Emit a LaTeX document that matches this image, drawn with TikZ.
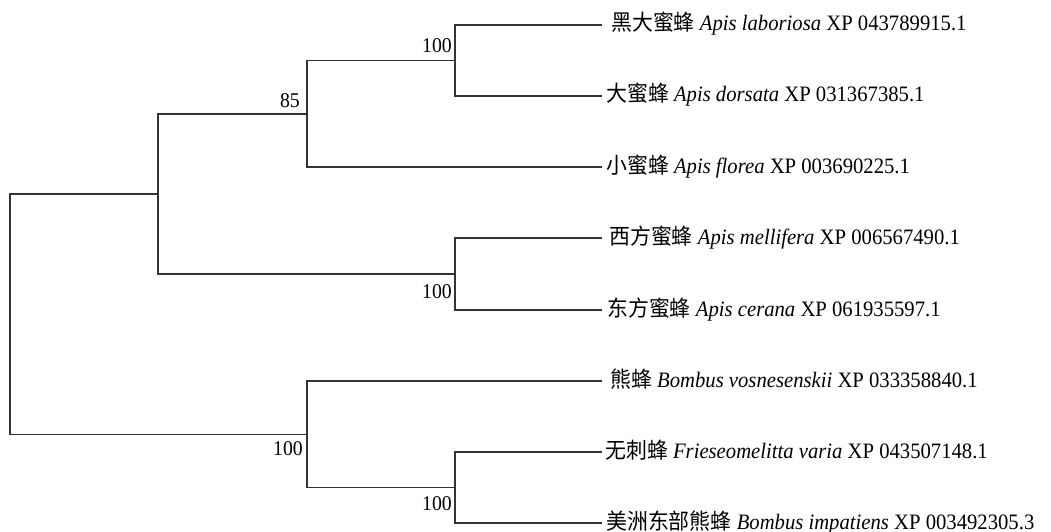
\documentclass[tikz,border=0pt]{standalone}
\usepackage{fontspec}
\setmainfont{Liberation Serif}[FakeStretch=0.94]
\newfontfamily\cjk{Noto Sans CJK SC}[FakeStretch=0.95]
\begin{document}
\begin{tikzpicture}[x=1pt,y=-1pt,
  branch/.style={draw=black!80, line width=1.2pt},
  leaf/.style={anchor=base west, inner sep=0pt, font=\fontsize{22}{24}\selectfont},
  boot/.style={anchor=base east, inner sep=0pt, font=\fontsize{21}{24}\selectfont}]
\useasboundingbox (0,0) rectangle (1051,532);
% leaf tips
\coordinate (l1) at (602,25);
\coordinate (l2) at (602,96);
\coordinate (l3) at (602,167);
\coordinate (l4) at (602,238);
\coordinate (l5) at (602,310);
\coordinate (l6) at (602,381);
\coordinate (l7) at (602,452);
\coordinate (l8) at (602,523);
% internal nodes
\coordinate (C) at (455,60.5);
\coordinate (B) at (307,114);
\coordinate (D) at (455,274);
\coordinate (A) at (158,194);
\coordinate (F) at (455,487.5);
\coordinate (E) at (307,434.5);
\coordinate (R) at (10,314);
% branches
\draw[branch] (l1) -| (C) |- (l2);
\draw[branch] (C) -| (B) |- (l3);
\draw[branch] (l4) -| (D) |- (l5);
\draw[branch] (B) -| (A) |- (D);
\draw[branch] (l7) -| (F) |- (l8);
\draw[branch] (l6) -| (E) |- (F);
\draw[branch] (A) -| (R) |- (E);
% labels
\node[leaf] (t1) at ([shift={(9,6)}]l1) {{\cjk 黑大蜜蜂} \textit{Apis laboriosa} XP 043789915.1};
\node[leaf] (t2) at ([shift={(4,6)}]l2) {{\cjk 大蜜蜂} \textit{Apis dorsata} XP 031367385.1};
\node[leaf] (t3) at ([shift={(4,6)}]l3) {{\cjk 小蜜蜂} \textit{Apis florea} XP 003690225.1};
\node[leaf] (t4) at ([shift={(7,6)}]l4) {{\cjk 西方蜜蜂} \textit{Apis mellifera} XP 006567490.1};
\node[leaf] (t5) at ([shift={(5,6)}]l5) {{\cjk 东方蜜蜂} \textit{Apis cerana} XP 061935597.1};
\node[leaf] (t6) at ([shift={(8,6)}]l6) {{\cjk 熊蜂} \textit{Bombus vosnesenskii} XP 033358840.1};
\node[leaf] (t7) at ([shift={(3,6)}]l7) {{\cjk 无刺蜂} \textit{Frieseomelitta varia} XP 043507148.1};
\node[leaf] (t8) at ([shift={(4,6)}]l8) {{\cjk 美洲东部熊蜂} \textit{Bombus impatiens} XP 003492305.3};
% bootstrap values
\node[boot] (bC) at ([shift={(-3,-7.5)}]C) {100};
\node[boot] (bB) at ([shift={(-7,-6)}]B) {85};
\node[boot] (bD) at ([shift={(-3,24)}]D) {100};
\node[boot] (bE) at ([shift={(-4,21)}]E) {100};
\node[boot] (bF) at ([shift={(-3,22.5)}]F) {100};
\end{tikzpicture}
\end{document}
